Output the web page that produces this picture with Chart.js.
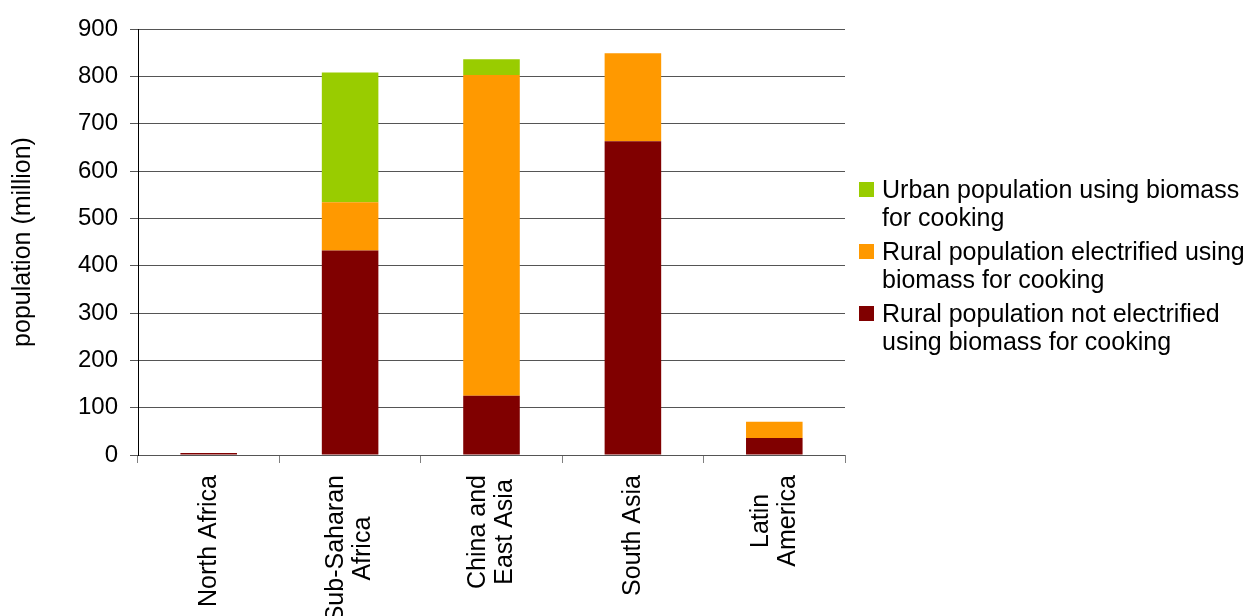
<!DOCTYPE html>
<html>
<head>
<meta charset="utf-8">
<script src="https://cdn.jsdelivr.net/npm/chart.js@4/dist/chart.umd.min.js"></script>
<style>
  body { margin: 0; background: #fff; }
  #wrap { position: relative; width: 1246px; height: 616px; }
  #legend {
    position: absolute; left: 859px; top: 175px;
    font-family: "Liberation Sans", Arial, sans-serif; font-size: 25px; line-height: 28px; color: #000;
  }
  .item { display: flex; align-items: flex-start; margin-bottom: 6px; }
  .box { width: 15px; height: 15px; margin-top: 7px; margin-right: 8px; flex: none; }
  .txt { width: 372px; }
</style>
</head>
<body>
<div id="wrap">
  <canvas id="chart" width="1246" height="616"></canvas>
  <div id="legend"></div>
</div>
<script>
const categories = [['North Africa'], ['Sub-Saharan', 'Africa'], ['China and', 'East Asia'], ['South Asia'], ['Latin', 'America']];
const ruralNotElectrified = [4, 432, 125, 663, 36];
const ruralElectrified = [0, 102, 678, 186, 34];
const urbanBiomass = [0, 274, 33, 0, 0];
const yTicks = [0, 100, 200, 300, 400, 500, 600, 700, 800, 900];

const FONT = '"Liberation Sans", Arial, sans-serif';

// x labels: rotated, lines centred on the longest line, which ends below the axis
const xLabels = {
  id: 'xLabels',
  afterDraw(chart) {
    const ctx = chart.ctx;
    const xs = chart.scales.x;
    const top = xs.top + 20;
    ctx.save();
    ctx.font = '25px ' + FONT;
    ctx.fillStyle = '#000';
    ctx.textAlign = 'center';
    ctx.textBaseline = 'middle';
    categories.forEach((lines, i) => {
      const w = Math.max(...lines.map(l => ctx.measureText(l).width));
      ctx.save();
      ctx.translate(xs.getPixelForTick(i), top);
      ctx.rotate(-Math.PI / 2);
      lines.forEach((l, j) => {
        ctx.fillText(l, -w / 2, (j - (lines.length - 1) / 2) * 27);
      });
      ctx.restore();
    });
    ctx.restore();
  }
};

const chart = new Chart(document.getElementById('chart'), {
  type: 'bar',
  data: {
    labels: categories,
    datasets: [
      { label: 'Rural population not electrified using biomass for cooking', data: ruralNotElectrified, backgroundColor: '#800000' },
      { label: 'Rural population electrified using biomass for cooking', data: ruralElectrified, backgroundColor: '#FF9900' },
      { label: 'Urban population using biomass for cooking', data: urbanBiomass, backgroundColor: '#99CC00' }
    ]
  },
  options: {
    responsive: false,
    animation: false,
    layout: { padding: { top: 29, right: 401, left: 0, bottom: 0 } },
    datasets: { bar: { categoryPercentage: 1, barPercentage: 0.4 } },
    plugins: { legend: { display: false }, tooltip: { enabled: false } },
    scales: {
      x: {
        stacked: true,
        ticks: { display: false },
        grid: { drawOnChartArea: false, drawTicks: true, tickLength: 8, color: '#808080' },
        border: { color: '#808080', z: -1 },
        afterFit(s) { s.height = 161; }
      },
      y: {
        stacked: true,
        min: 0,
        max: 900,
        afterBuildTicks(s) { s.ticks = yTicks.map(v => ({ value: v })); },
        ticks: { color: '#000', padding: 12, font: { family: FONT, size: 24 } },
        grid: { color: '#555', tickLength: 8, z: -1 },
        border: { color: '#000' },
        title: { display: true, text: 'population (million)', color: '#000', padding: { top: 8, bottom: 0 }, font: { family: FONT, size: 25 } },
        afterFit(s) { s.width = 138; }
      }
    }
  },
  plugins: [xLabels]
});

// legend, top to bottom in reverse stacking order
const legend = document.getElementById('legend');
chart.data.datasets.slice().reverse().forEach(ds => {
  const item = document.createElement('div');
  item.className = 'item';
  item.innerHTML = '<span class="box" style="background:' + ds.backgroundColor + '"></span><span class="txt">' + ds.label + '</span>';
  legend.appendChild(item);
});
</script>
</body>
</html>
